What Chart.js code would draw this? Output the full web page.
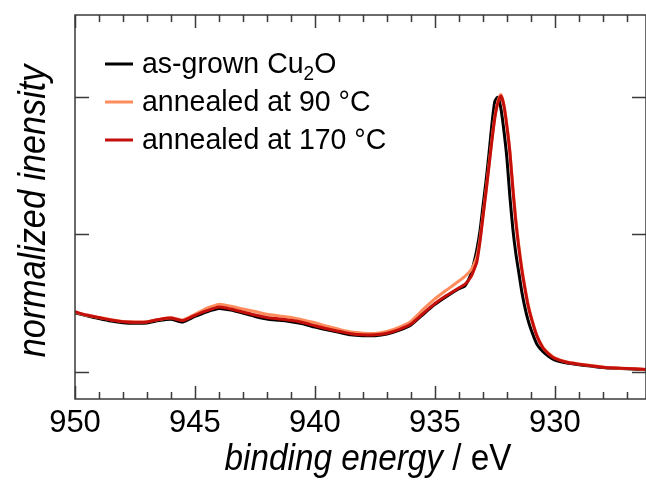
<!DOCTYPE html>
<html>
<head>
<meta charset="utf-8">
<script src="https://cdn.jsdelivr.net/npm/chart.js@4"></script>
<style>
  html, body { margin: 0; padding: 0; background: #fff; }
  canvas { display: block; }
</style>
</head>
<body>
<canvas id="xpsChart" width="646" height="486"></canvas>
<script>
// binding energy grid (eV)
const energies = [
  950, 949.5, 949, 948.5, 948, 947.5, 947, 946.5, 946, 945.5,
  945, 944.5, 944, 943.5, 943, 942.5, 942, 941.5, 941, 940.5,
  940, 939.5, 939, 938.5, 938, 937.5, 937, 936.5, 936, 935.5,
  935, 934.5, 934, 933.75, 933.5, 933.375, 933.25, 933.125, 933, 932.875,
  932.75, 932.625, 932.5, 932.375, 932.25, 932.125, 932, 931.875, 931.75, 931.625,
  931.5, 931.375, 931.25, 931.125, 931, 930.75, 930.5, 930.25, 930, 929.5,
  929, 928.5, 928, 927.5, 927, 926.5, 926.2
];

const asGrown = [
  0.214, 0.203, 0.193, 0.184, 0.178, 0.176, 0.177, 0.186, 0.191, 0.181,
  0.201, 0.218, 0.230, 0.224, 0.213, 0.201, 0.192, 0.187, 0.182, 0.174,
  0.162, 0.152, 0.143, 0.134, 0.131, 0.131, 0.137, 0.150, 0.170, 0.208,
  0.245, 0.275, 0.302, 0.312, 0.355, 0.395, 0.445, 0.51, 0.60, 0.69,
  0.79, 0.90, 0.985, 1.0, 0.96, 0.88, 0.78, 0.64, 0.52, 0.43,
  0.36, 0.29, 0.235, 0.19, 0.155, 0.10, 0.073, 0.055, 0.042, 0.031,
  0.025, 0.020, 0.015, 0.012, 0.010, 0.008, 0.007
];

const annealed90 = [
  0.216, 0.205, 0.197, 0.189, 0.183, 0.181, 0.182, 0.190, 0.196, 0.188,
  0.209, 0.231, 0.245, 0.238, 0.228, 0.219, 0.209, 0.203, 0.197, 0.188,
  0.178, 0.165, 0.154, 0.144, 0.140, 0.139, 0.146, 0.161, 0.183, 0.226,
  0.265, 0.298, 0.330, 0.347, 0.37, 0.39, 0.42, 0.48, 0.565, 0.655,
  0.75, 0.845, 0.93, 0.985, 1.01, 0.975, 0.90, 0.805, 0.675, 0.555,
  0.46, 0.378, 0.31, 0.25, 0.205, 0.133, 0.089, 0.066, 0.05, 0.035,
  0.028, 0.022, 0.017, 0.013, 0.011, 0.009, 0.008
];

const annealed170 = [
  0.218, 0.206, 0.197, 0.188, 0.182, 0.180, 0.181, 0.190, 0.195, 0.186,
  0.205, 0.222, 0.235, 0.228, 0.217, 0.206, 0.197, 0.192, 0.187, 0.179,
  0.167, 0.156, 0.147, 0.138, 0.134, 0.134, 0.140, 0.153, 0.173, 0.211,
  0.248, 0.278, 0.305, 0.318, 0.345, 0.37, 0.40, 0.47, 0.56, 0.65,
  0.745, 0.84, 0.925, 0.98, 1.005, 0.97, 0.895, 0.80, 0.665, 0.545,
  0.45, 0.37, 0.305, 0.245, 0.20, 0.13, 0.087, 0.064, 0.048, 0.034,
  0.027, 0.021, 0.016, 0.013, 0.011, 0.009, 0.008
];

const seriesNames = ['as-grown Cu\u2082O', 'annealed at 90 \u00b0C', 'annealed at 170 \u00b0C'];
const seriesColors = ['#000000', '#ff8c5c', '#c40f0a'];
const xTicks = [950, 945, 940, 935, 930];
const yTicks = [0, 0.5, 1];

const FONT = '"Liberation Sans", Arial, sans-serif';

function toPoints(values) {
  return energies.map((e, i) => ({ x: e, y: values[i] }));
}

// text drawn slightly condensed like the original
function drawText(ctx, text, x, y, sx) {
  ctx.save();
  ctx.translate(x, y);
  ctx.scale(sx, 1);
  ctx.fillText(text, 0, 0);
  ctx.restore();
  return ctx.measureText(text).width * sx;
}

const frameAndText = {
  id: 'frameAndText',
  afterDraw(chart) {
    const { ctx, chartArea: a } = chart;
    const xs = chart.scales.x, ys = chart.scales.y;
    ctx.save();

    // frame
    ctx.strokeStyle = '#3a3a3a';
    ctx.lineWidth = 1.5;
    ctx.strokeRect(a.left, a.top, a.right - a.left, a.bottom - a.top);

    // x ticks, inward, top and bottom
    ctx.beginPath();
    for (let v = Math.ceil(xs.min); v <= xs.max; v++) {
      const px = Math.round(xs.getPixelForValue(v)) + 0.5;
      const len = v % 5 === 0 ? 13 : 7;
      ctx.moveTo(px, a.bottom); ctx.lineTo(px, a.bottom - len);
      ctx.moveTo(px, a.top); ctx.lineTo(px, a.top + len);
    }
    // y ticks, left and right
    yTicks.forEach(v => {
      const py = Math.round(ys.getPixelForValue(v)) + 0.5;
      ctx.moveTo(a.left, py); ctx.lineTo(a.left + 14, py);
      ctx.moveTo(a.right, py); ctx.lineTo(a.right - 14, py);
    });
    ctx.stroke();

    // legend
    ctx.fillStyle = '#000';
    ctx.textBaseline = 'alphabetic';
    const rows = [73, 111, 149];
    seriesNames.forEach((name, i) => {
      const base = rows[i];
      ctx.strokeStyle = seriesColors[i];
      ctx.lineWidth = 3;
      ctx.beginPath();
      ctx.moveTo(105, base - 9); ctx.lineTo(133, base - 9);
      ctx.stroke();
      ctx.font = '30px ' + FONT;
      let x = 142;
      const parts = name.split('\u2082');
      x += drawText(ctx, parts[0], x, base, 0.95);
      if (parts.length > 1) {
        ctx.font = '20px ' + FONT;
        x += drawText(ctx, '2', x, base + 7, 0.95);
        ctx.font = '30px ' + FONT;
        drawText(ctx, parts[1], x, base, 0.95);
      }
    });

    // x title: italic quantity, upright unit
    const sx = 0.9;
    ctx.font = 'italic 37px ' + FONT;
    const t1 = 'binding energy';
    const w1 = ctx.measureText(t1).width * sx;
    ctx.font = '37px ' + FONT;
    const t2 = ' / eV';
    const w2 = ctx.measureText(t2).width * sx;
    let tx = 368 - (w1 + w2) / 2;
    ctx.font = 'italic 37px ' + FONT;
    tx += drawText(ctx, t1, tx, 470, sx);
    ctx.font = '37px ' + FONT;
    drawText(ctx, t2, tx, 470, sx);

    // y title
    ctx.save();
    ctx.translate(45, 211);
    ctx.rotate(-Math.PI / 2);
    ctx.font = 'italic 38px ' + FONT;
    ctx.textAlign = 'center';
    ctx.scale(0.9, 1);
    ctx.fillText('normalized inensity', 0, 0);
    ctx.restore();

    ctx.restore();
  }
};

new Chart(document.getElementById('xpsChart'), {
  type: 'line',
  data: {
    datasets: [
      { label: seriesNames[0], data: toPoints(asGrown), borderColor: seriesColors[0], order: 2 },
      { label: seriesNames[1], data: toPoints(annealed90), borderColor: seriesColors[1], order: 1 },
      { label: seriesNames[2], data: toPoints(annealed170), borderColor: seriesColors[2], order: 0 }
    ]
  },
  options: {
    responsive: false,
    animation: false,
    devicePixelRatio: 1,
    parsing: false,
    layout: { padding: { top: 15, right: 0, left: 0, bottom: 0 } },
    elements: {
      line: { borderWidth: 3, tension: 0.2, fill: false },
      point: { radius: 0 }
    },
    plugins: { legend: { display: false }, tooltip: { enabled: false } },
    scales: {
      x: {
        type: 'linear',
        reverse: true,
        min: 926.2,
        max: 950,
        grid: { display: false, drawTicks: false },
        border: { display: false },
        afterBuildTicks: s => { s.ticks = xTicks.map(v => ({ value: v })); },
        afterFit: s => { s.height = 87; },
        ticks: {
          padding: 6,
          color: '#000',
          maxRotation: 0,
          font: { family: FONT, size: 31 }
        }
      },
      y: {
        min: -0.1,
        max: 1.3,
        grid: { display: false, drawTicks: false },
        border: { display: false },
        afterBuildTicks: s => { s.ticks = yTicks.map(v => ({ value: v })); },
        afterFit: s => { s.width = 75; },
        ticks: { display: false }
      }
    }
  },
  plugins: [frameAndText]
});
</script>
</body>
</html>
